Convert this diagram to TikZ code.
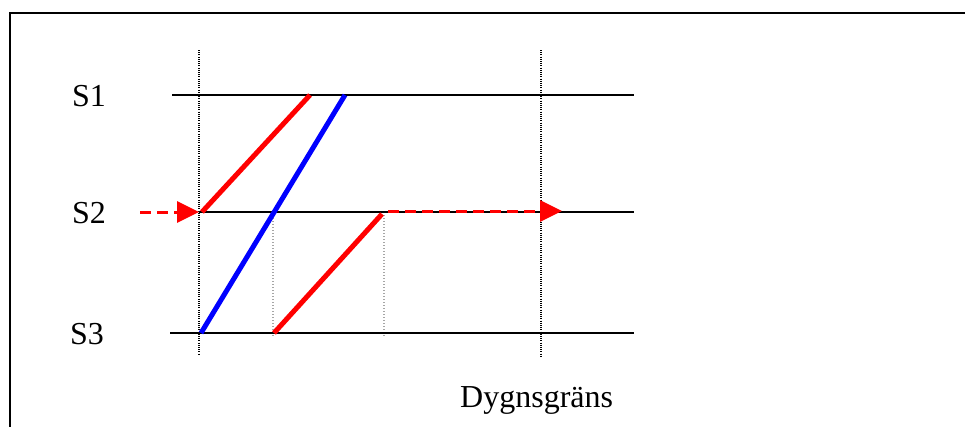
\documentclass[tikz,border=0pt]{standalone}
\usepackage{fontspec}
\setmainfont{Liberation Serif}
\usetikzlibrary{arrows.meta}
\begin{document}
\begin{tikzpicture}[x=1pt,y=-1pt,
  frameline/.style={line width=2.4pt, black},
  track/.style={line width=1.6pt, black},
  blackdots/.style={line width=1.3pt, black, dash pattern=on 1pt off 1.2pt},
  graydots/.style={line width=1.1pt, black!35, dash pattern=on 1pt off 2pt},
  redtrain/.style={line width=5pt, red},
  bluetrain/.style={line width=5pt, blue},
  carry/.style={line width=3pt, red, dash pattern=on 11pt off 6pt, -{Triangle[length=22pt,width=21pt]}},
  lbl/.style={font=\fontsize{32}{38}\selectfont, inner sep=0pt, anchor=base west}
]
\useasboundingbox (0,0) rectangle (965,426);
\clip (0,0) rectangle (965,426);
% frame (right and bottom edges lie outside the picture)
\draw[frameline] (10,440) -- (10,13) -- (980,13);

% coordinates
\coordinate (s1a) at (172,95);  \coordinate (s1b) at (634,95);
\coordinate (s2a) at (199,212); \coordinate (s2b) at (634,212);
\coordinate (s3a) at (170,333); \coordinate (s3b) at (634,333);
\coordinate (d1t) at (199,50);  \coordinate (d1b) at (199,355);
\coordinate (d2t) at (541,50);  \coordinate (d2b) at (541,357);
\coordinate (g1t) at (273,212); \coordinate (g1b) at (273,336);
\coordinate (g2t) at (384,212); \coordinate (g2b) at (384,336);
\coordinate (r1a) at (202,212); \coordinate (r1b) at (310,95);
\coordinate (ba)  at (201,333); \coordinate (bb)  at (345,95);
\coordinate (r2a) at (274,333); \coordinate (r2b) at (382,214);
\coordinate (cia) at (140,212); \coordinate (cib) at (199,212);
\coordinate (coa) at (388,211); \coordinate (cob) at (562,211);

% labels
\node[lbl] (lS1) at (72,106) {S1};
\node[lbl] (lS2) at (72,223) {S2};
\node[lbl] (lS3) at (70,344) {S3};
\node[lbl] (lD) at (460,407) {Dygnsgräns};

% dotted guides
\draw[blackdots] (d1t) -- (d1b);
\draw[blackdots] (d2t) -- (d2b);
\draw[graydots] (g1t) -- (g1b);
\draw[graydots] (g2t) -- (g2b);

% tracks
\draw[track] (s1a) -- (s1b);
\draw[track] (s2a) -- (s2b);
\draw[track] (s3a) -- (s3b);

% trains
\draw[redtrain] (r1a) -- (r1b);
\draw[bluetrain] (ba) -- (bb);
\draw[redtrain] (r2a) -- (r2b);

% carry-over arrows
\draw[carry] (cia) -- (cib);
\draw[carry] (coa) -- (cob);
\end{tikzpicture}
\end{document}
